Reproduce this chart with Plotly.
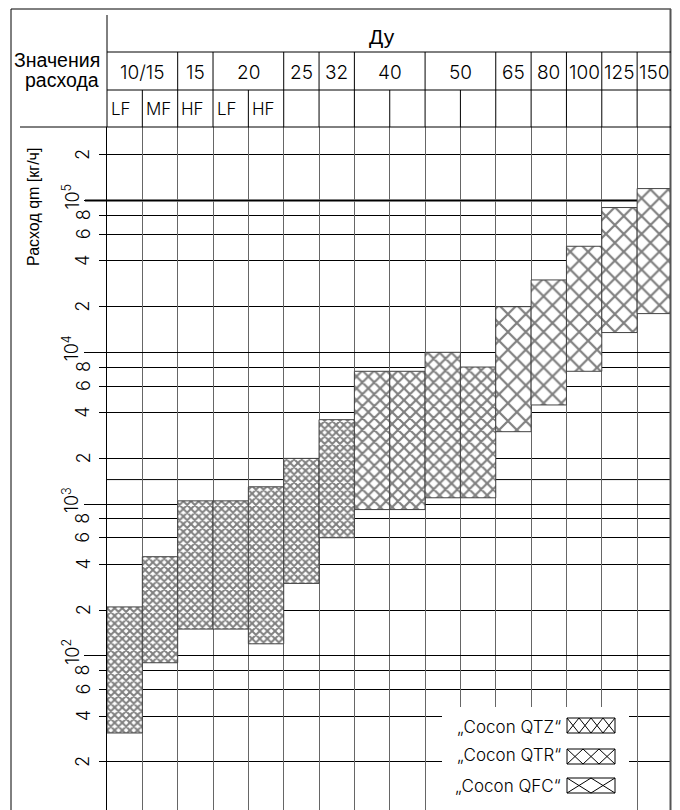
import numpy as np
import plotly.graph_objects as go

# flow ranges per column (kg/h)
col_index = list(range(16))
flow_min = [31, 90, 150, 150, 120, 300, 600, 920, 920, 1100, 1100, 3000, 4500, 7500, 13500, 18000]
flow_max = [210, 450, 1050, 1050, 1300, 2000, 3600, 7500, 7500, 10000, 8000, 20000, 30000, 50000, 90000, 120000]
col_series = [0, 0, 0, 0, 0, 0, 0, 1, 1, 1, 1, 2, 2, 2, 2, 2]

series_names = ["„Cocon QTZ“", "„Cocon QTR“", "„Cocon QFC“"]
series_hatch = [5.4, 8.4, 12.6]      # pattern tile size, px
series_solid = [0.6, 0.44, 0.32]
swatch_cells = [4, 3, 2]

# header rows
du_labels = ["10/15", "15", "20", "25", "32", "40", "50", "65", "80", "100", "125", "150"]
du_span = [2, 1, 2, 1, 1, 2, 2, 1, 1, 1, 1, 1]
flow_class = ["LF", "MF", "HF", "LF", "HF"]

decades = [100, 1000, 10000, 100000]
minor_vals = [20, 40, 60, 80, 200, 400, 600, 800, 2000, 4000, 6000, 8000,
              20000, 40000, 60000, 80000, 200000]
extra_line = 1450

# the page puts the plot 8px in from the top-left corner
OFF = 8
W, H = 680 - OFF, 810 - OFF
TECH = "Inter, Lato, sans-serif"
ARIAL = "Liberation Sans, Arial, sans-serif"


def px(x):
    return (x - OFF) / W


def py(y):
    return 1 - (y - OFF) / H


def note(text, x, y, xref="paper", yref="paper", size=17, family=TECH, weight=300, **kw):
    d = dict(text=text, x=x, y=y, xref=xref, yref=yref, showarrow=False,
             xanchor="center", yanchor="middle",
             font=dict(family=family, size=size, color="black", weight=weight))
    d.update(kw)
    return d


fig = go.Figure()

for s, name in enumerate(series_names):
    xs = [c for c in col_index if col_series[c] == s]
    fig.add_trace(go.Bar(
        x=xs,
        y=[flow_max[c] - flow_min[c] for c in xs],
        base=[flow_min[c] for c in xs],
        width=1,
        name=name,
        showlegend=False,
        marker=dict(
            color="white",
            line=dict(color="#444", width=1),
            pattern=dict(shape="x", size=series_hatch[s], solidity=series_solid[s],
                         fgcolor="black", bgcolor="white"),
        ),
    ))

shapes = []
line_k = dict(color="black", width=1)

# outer frame
shapes.append(dict(type="line", xref="paper", yref="paper", x0=px(11), x1=px(11), y0=py(9), y1=py(812), line=line_k))
shapes.append(dict(type="line", xref="paper", yref="paper", x0=px(11), x1=px(671), y0=py(9), y1=py(9), line=line_k))
shapes.append(dict(type="line", xref="paper", yref="paper", x0=px(670.5), x1=px(670.5), y0=py(9), y1=py(812),
                   line=dict(color="#555", width=2)))
# header horizontals
shapes.append(dict(type="line", xref="paper", yref="paper", x0=px(107), x1=px(671), y0=py(52), y1=py(52), line=line_k))
shapes.append(dict(type="line", xref="paper", yref="paper", x0=px(107), x1=px(671), y0=py(90), y1=py(90), line=line_k))
shapes.append(dict(type="line", xref="paper", yref="paper", x0=px(20), x1=px(671), y0=py(127), y1=py(127), line=line_k))
shapes.append(dict(type="line", xref="paper", yref="paper", x0=px(107), x1=px(107), y0=py(15), y1=py(127), line=line_k))

# Du row dividers
edge = 0
du_centers = []
for span in du_span:
    du_centers.append(edge + span / 2 - 0.5)
    edge += span
    if edge < 16:
        shapes.append(dict(type="line", xref="x", yref="paper", x0=edge - 0.5, x1=edge - 0.5,
                           y0=py(52), y1=py(90), line=line_k))
# sub row dividers
for b in range(1, 16):
    shapes.append(dict(type="line", xref="x", yref="paper", x0=b - 0.5, x1=b - 0.5,
                       y0=py(90), y1=py(127), line=line_k))

# extra horizontal line and heavier 10^5 line
shapes.append(dict(type="line", xref="paper", yref="y", x0=px(107), x1=px(670), y0=extra_line, y1=extra_line,
                   line=line_k, layer="below"))
shapes.append(dict(type="line", xref="paper", yref="y", x0=px(85), x1=px(670), y0=1e5, y1=1e5,
                   line=dict(color="black", width=2), layer="below"))

# legend box
shapes.append(dict(type="rect", xref="paper", yref="paper", x0=px(442), x1=px(629), y0=py(707), y1=py(812),
                   fillcolor="white", line=dict(width=0), layer="above"))
sw_top = [718, 749, 778]
for s in range(3):
    x0, x1, y0, y1 = 567, 615, sw_top[s], sw_top[s] + 15
    n = swatch_cells[s]
    step = (x1 - x0) / n
    path = f"M{px(x0)},{py(y0)}H{px(x1)}V{py(y1)}H{px(x0)}Z"
    for i in range(n):
        a, b = x0 + i * step, x0 + (i + 1) * step
        path += f"M{px(a)},{py(y0)}L{px(b)},{py(y1)}M{px(a)},{py(y1)}L{px(b)},{py(y0)}"
    shapes.append(dict(type="path", xref="paper", yref="paper", path=path,
                       line=dict(color="black", width=1), layer="above"))

annotations = []
# header text
annotations.append(note("Ду", px(382), py(36), size=21, family=ARIAL, weight=400))
annotations.append(note("Значения", px(57), py(60), size=19.5, family=ARIAL, weight=400))
annotations.append(note("расхода", px(62), py(80), size=19.5, family=ARIAL, weight=400))
annotations.append(note("Расход qm [кг/ч]", px(33), py(207), size=16, family=ARIAL, weight=400,
                        textangle=-90))
for lab, xc in zip(du_labels, du_centers):
    annotations.append(note(lab, xc, py(72), xref="x", size=19))
for i, lab in enumerate(flow_class):
    annotations.append(note(lab, i - 0.45, py(109), xref="x", size=17, xanchor="left"))

# rotated y tick labels
for v in minor_vals:
    digit = str(int(round(v / 10 ** np.floor(np.log10(v)))))
    annotations.append(note(digit, px(83), np.log10(v), yref="y", size=18, textangle=-90))
for v in decades:
    annotations.append(note(f"10<sup>{int(np.log10(v))}</sup>", px(71), np.log10(v), yref="y",
                            size=18, textangle=-90, yshift=4))

# legend text
lg_y = [727, 755, 786]
for s in range(3):
    annotations.append(note(series_names[s], px(563), py(lg_y[s]), size=17, xanchor="right"))

fig.update_layout(
    width=W,
    height=H,
    margin=dict(l=0, r=0, t=0, b=0),
    paper_bgcolor="white",
    plot_bgcolor="white",
    barmode="overlay",
    shapes=shapes,
    annotations=annotations,
    xaxis=dict(
        domain=[px(107), px(670)],
        range=[-0.5, 15.43],
        tickmode="array",
        tickvals=[b - 0.5 for b in range(1, 16)],
        showticklabels=False,
        ticks="",
        showgrid=True,
        gridcolor="#666",
        gridwidth=1,
        zeroline=False,
        showline=False,
    ),
    yaxis=dict(
        type="log",
        domain=[0, py(127)],
        range=[1.036 - 0.0521, 5.485],
        tickmode="array",
        tickvals=decades,
        ticks="outside",
        ticklen=22,
        tickcolor="black",
        tickwidth=1,
        showticklabels=False,
        showgrid=True,
        gridcolor="black",
        gridwidth=1,
        showline=True,
        linecolor="black",
        linewidth=1,
        zeroline=False,
        minor=dict(tickmode="array", tickvals=minor_vals, ticks="outside", ticklen=7,
                   tickcolor="black", showgrid=True, gridcolor="black", gridwidth=1),
    ),
)

fig.write_html("out.html")
